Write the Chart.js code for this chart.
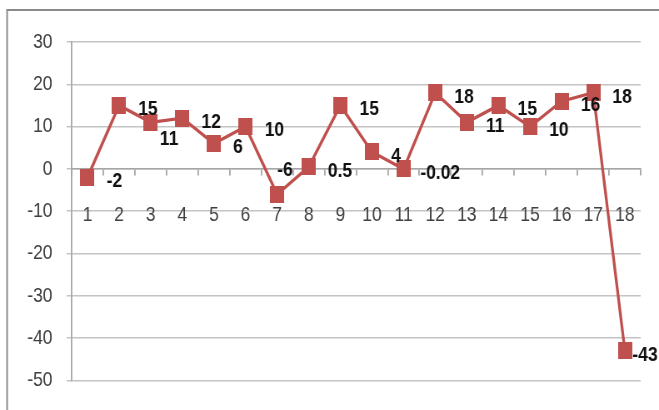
<!DOCTYPE html>
<html>
<head>
<meta charset="utf-8">
<script src="https://cdn.jsdelivr.net/npm/chart.js@4/dist/chart.umd.min.js"></script>
<style>
  html, body { margin: 0; padding: 0; background: #fff; overflow: hidden; }
  #wrap { width: 659px; height: 410px; position: relative; overflow: hidden; }
</style>
</head>
<body>
<div id="wrap"><canvas id="c" width="791" height="410" style="width:659px;height:410px;"></canvas></div>
<script>
const categories = ['1','2','3','4','5','6','7','8','9','10','11','12','13','14','15','16','17','18'];
const values = [-2, 15, 11, 12, 6, 10, -6, 0.5, 15, 4, -0.02, 18, 11, 15, 10, 16, 18, -43];
const valueLabels = ['-2','15','11','12','6','10','-6','0.5','15','4','-0.02','18','11','15','10','16','18','-43'];
const yMin = -50, yMax = 30, yStep = 10;

// The reference is drawn in a narrow face; the canvas is laid out 1.2x wider
// and displayed at 659px so text and marks get the same narrow proportions.
const FONT = "'Liberation Sans', Arial, sans-serif";
const RED = '#C0504D';

const marker = document.createElement('canvas');
marker.width = 17; marker.height = 17;
(function(){ const g = marker.getContext('2d'); g.fillStyle = RED; g.fillRect(0,0,17,17); })();

const framePlugin = {
  id: 'frame',
  beforeDraw(chart) {
    const ctx = chart.ctx;
    ctx.save();
    ctx.fillStyle = '#fff';
    ctx.fillRect(0, 0, chart.width, chart.height);
    ctx.strokeStyle = '#8a8a8a';
    ctx.lineWidth = 2;
    ctx.beginPath();
    ctx.moveTo(8.5, chart.height);
    ctx.lineTo(8.5, 10);
    ctx.lineTo(chart.width, 10);
    ctx.stroke();
    ctx.restore();
  }
};

const labelPlugin = {
  id: 'valueLabels',
  afterDatasetsDraw(chart, args, opts) {
    const ctx = chart.ctx;
    const meta = chart.getDatasetMeta(0);
    ctx.save();
    ctx.font = opts.font;
    ctx.fillStyle = opts.color;
    ctx.textAlign = 'left';
    ctx.textBaseline = 'middle';
    meta.data.forEach((pt, i) => {
      const off = (opts.offsets && opts.offsets[i]) || opts.defaultOffset;
      ctx.fillText(valueLabels[i], pt.x + off[0], pt.y + off[1]);
    });
    ctx.restore();
  }
};

new Chart(document.getElementById('c'), {
  type: 'line',
  data: {
    labels: categories,
    datasets: [{
      data: values,
      borderColor: RED,
      borderWidth: 3.3,
      pointStyle: marker,
      pointRadius: 9,
      tension: 0,
      fill: false
    }]
  },
  options: {
    responsive: false,
    animation: false,
    devicePixelRatio: 1,
    layout: { padding: { top: 42, right: 22, bottom: 28, left: 0 } },
    plugins: {
      legend: { display: false },
      tooltip: { enabled: false },
      valueLabels: {
        font: 'bold 21px ' + FONT,
        color: '#111',
        defaultOffset: [23, 4],
        offsets: { 2: [11, 17], 6: [0, -24], 10: [20, 4], 17: [9, 4] }
      }
    },
    scales: {
      x: {
        type: 'category',
        position: { y: 0 },
        offset: true,
        grid: { offset: true, drawOnChartArea: false, drawTicks: true, tickLength: 6, color: '#a6a6a6', lineWidth: 1.8 },
        border: { color: '#a6a6a6', width: 1.5 },
        ticks: { color: '#404040', font: { family: FONT, size: 21 }, padding: 28, maxRotation: 0, autoSkip: false }
      },
      y: {
        min: yMin, max: yMax,
        ticks: { stepSize: yStep, color: '#404040', font: { family: FONT, size: 21 }, padding: 17 },
        grid: { color: '#c4c4c4', lineWidth: 1.5, tickLength: 6 },
        border: { color: '#a6a6a6', width: 1.8 },
        afterFit(scale) { scale.width = 86; }
      }
    }
  },
  plugins: [framePlugin, labelPlugin]
});
</script>
</body>
</html>
